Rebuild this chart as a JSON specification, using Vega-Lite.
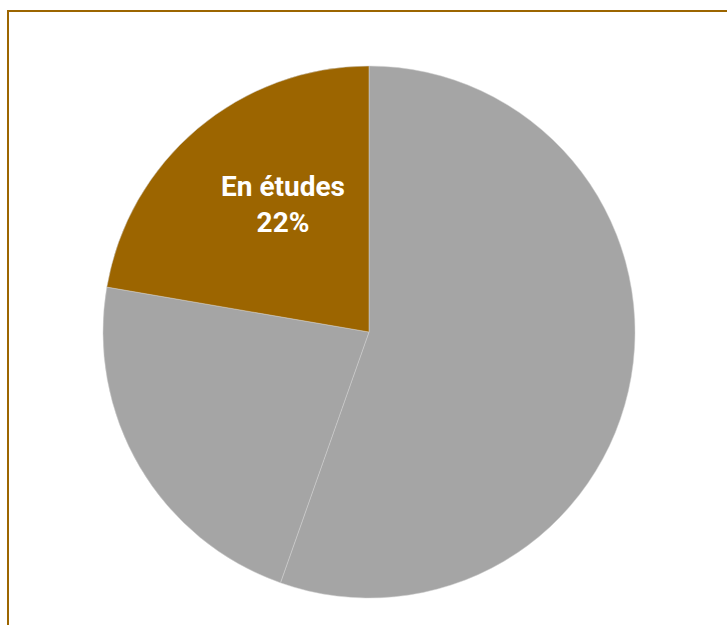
{
  "$schema": "https://vega.github.io/schema/vega-lite/v6.json",
  "width": 722,
  "height": 642,
  "padding": {"left": 8, "top": 11, "right": 0, "bottom": 0},
  "autosize": {"type": "none"},
  "background": "#ffffff",
  "view": {"stroke": "#9C6500", "strokeWidth": 2, "fill": "#ffffff"},
  "data": {"values": [
    {"categorie": "Autre 1", "valeur": 55.4, "rang": 1, "etiquette": ""},
    {"categorie": "Autre 2", "valeur": 22.3, "rang": 2, "etiquette": ""},
    {"categorie": "En études", "valeur": 22.3, "rang": 3, "etiquette": "En études\n22%"}
  ]},
  "encoding": {
    "theta": {"field": "valeur", "type": "quantitative", "stack": true},
    "order": {"field": "rang", "type": "quantitative"}
  },
  "layer": [
    {
      "mark": {"type": "arc", "outerRadius": 266, "stroke": "#d0d0d0", "strokeWidth": 0.5},
      "encoding": {
        "color": {"field": "categorie", "type": "nominal", "legend": null,
          "scale": {"domain": ["Autre 1", "Autre 2", "En études"], "range": ["#A5A5A5", "#A5A5A5", "#9C6500"]}}
      }
    },
    {
      "mark": {"type": "text", "radius": 152, "dx": 12, "dy": -28, "font": "Roboto", "fontWeight": "bold", "fontSize": 28, "lineHeight": 36, "lineBreak": "\n", "color": "#ffffff", "align": "center", "baseline": "middle"},
      "encoding": {"text": {"field": "etiquette"}}
    }
  ]
}
